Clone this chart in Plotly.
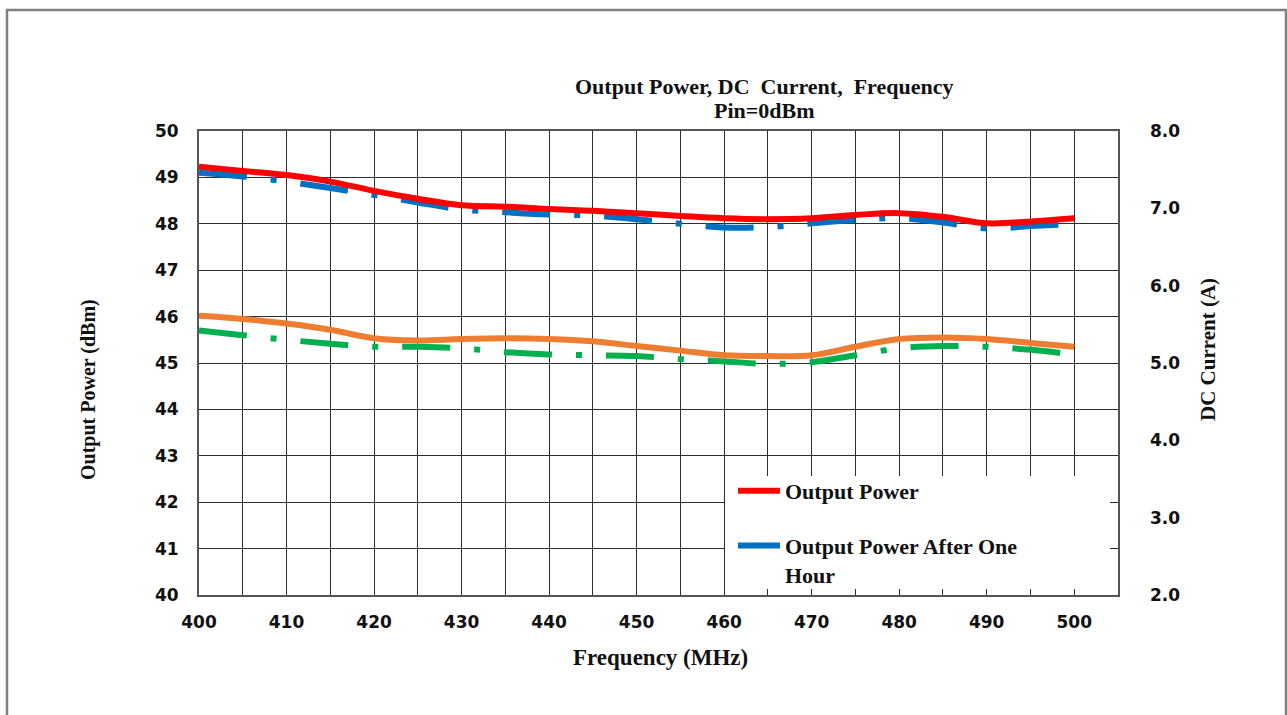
import plotly.graph_objects as go

# ---- data ----
freq = [400, 405, 410, 415, 420, 425, 430, 435, 440, 445, 450,
        455, 460, 465, 470, 475, 480, 485, 490, 495, 500]
output_power = [49.23, 49.14, 49.05, 48.91, 48.71, 48.54, 48.40, 48.37, 48.32, 48.28, 48.23,
                48.17, 48.12, 48.10, 48.12, 48.19, 48.23, 48.15, 48.01, 48.05, 48.12]
output_power_1h = [49.10, 49.02, 48.91, 48.77, 48.62, 48.46, 48.31, 48.25, 48.20, 48.18, 48.10,
                   48.00, 47.92, 47.93, 48.01, 48.08, 48.12, 48.03, 47.90, 47.95, 48.00]
dc_current = [5.61, 5.57, 5.51, 5.43, 5.32, 5.29, 5.31, 5.32, 5.31, 5.28, 5.22,
              5.16, 5.10, 5.09, 5.10, 5.21, 5.31, 5.33, 5.31, 5.26, 5.21]
dc_current_1h = [5.42, 5.36, 5.30, 5.25, 5.21, 5.21, 5.19, 5.14, 5.11, 5.10, 5.09,
                 5.05, 5.02, 4.99, 5.01, 5.10, 5.19, 5.22, 5.21, 5.17, 5.11]

x_ticks = [400, 410, 420, 430, 440, 450, 460, 470, 480, 490, 500]
y_ticks = [40, 41, 42, 43, 44, 45, 46, 47, 48, 49, 50]
y2_ticks = [2.0, 3.0, 4.0, 5.0, 6.0, 7.0, 8.0]

title_line1 = "Output Power, DC  Current,  Frequency"
title_line2 = "Pin=0dBm"

SERIF = "Liberation Serif, Times New Roman, serif"
SANS = "DejaVu Sans, Verdana, sans-serif"
DASH = "48px,24px,6px,24px"

fig = go.Figure()

fig.add_trace(go.Scatter(
    x=freq, y=output_power_1h, mode="lines", name="Output Power After One<br>Hour",
    line=dict(color="#0070C0", width=6, shape="spline", smoothing=1, dash=DASH),
    legendrank=2, legendgroup="b"))
fig.add_trace(go.Scatter(
    x=freq, y=output_power, mode="lines", name="Output Power",
    line=dict(color="#FF0000", width=6, shape="spline", smoothing=1),
    legendrank=1, legendgroup="a"))
fig.add_trace(go.Scatter(
    x=freq, y=dc_current_1h, mode="lines", name="DC Current After One Hour", yaxis="y2",
    line=dict(color="#00B050", width=6, shape="spline", smoothing=1, dash=DASH),
    showlegend=False))
fig.add_trace(go.Scatter(
    x=freq, y=dc_current, mode="lines", name="DC Current", yaxis="y2",
    line=dict(color="#ED7D31", width=6, shape="spline", smoothing=1),
    showlegend=False))

L, R, T, B = 199, 1287 - 1118, 131, 715 - 595
W, H = 1287 - L - R, 715 - T - B


def px(xp):
    return (xp - L) / W


def py(yp):
    return (715 - B - yp) / H


grid_col = "#2e2e2e"
title_font = dict(family=SERIF, size=22, color="#111111", weight="bold")

fig.update_layout(
    width=1287, height=715,
    margin=dict(l=L, r=R, t=T, b=B, pad=0),
    paper_bgcolor="white", plot_bgcolor="white",
    showlegend=True,
    legend=dict(x=px(733), y=py(470), xanchor="left", yanchor="top",
                bgcolor="rgba(0,0,0,0)", borderwidth=0,
                font=dict(family=SERIF, size=22, color="#111111", weight="bold"),
                valign="top", tracegroupgap=23, itemwidth=42),
    xaxis=dict(range=[400, 505], tickvals=x_ticks, ticktext=[str(v) for v in x_ticks],
               showgrid=True, gridcolor=grid_col, gridwidth=1.4,
               minor=dict(dtick=5, tick0=400, showgrid=True, gridcolor=grid_col, gridwidth=1.4),
               showline=True, linecolor="#555555", linewidth=2, mirror=True,
               ticks="", ticklabelstandoff=11, zeroline=False,
               tickfont=dict(family=SANS, size=17, color="#111111", weight="bold")),
    yaxis=dict(range=[40, 50], tickvals=y_ticks, ticktext=[str(v) for v in y_ticks],
               showgrid=True, gridcolor=grid_col, gridwidth=1.4,
               showline=True, linecolor="#555555", linewidth=2, mirror=True,
               ticks="", ticklabelstandoff=15, zeroline=False,
               tickfont=dict(family=SANS, size=17, color="#111111", weight="bold")),
    yaxis2=dict(range=[2, 8], tickvals=y2_ticks, ticktext=[f"{v:.1f}" for v in y2_ticks],
                overlaying="y", side="right", showgrid=False, showline=False,
                ticks="", ticklabelstandoff=31, zeroline=False,
                tickfont=dict(family=SANS, size=17, color="#111111", weight="bold")),
    annotations=[
        dict(text=title_line1, x=px(764), y=py(87), xref="paper", yref="paper",
             xanchor="center", yanchor="middle", showarrow=False, font=title_font),
        dict(text=title_line2, x=px(764), y=py(111), xref="paper", yref="paper",
             xanchor="center", yanchor="middle", showarrow=False, font=title_font),
        dict(text="Output Power (dBm)", x=px(88), y=py(390), xref="paper", yref="paper",
             xanchor="center", yanchor="middle", showarrow=False, textangle=-90,
             font=dict(family=SERIF, size=20, color="#111111", weight="bold")),
        dict(text="Frequency (MHz)", x=px(660), y=py(657), xref="paper", yref="paper",
             xanchor="center", yanchor="middle", showarrow=False,
             font=dict(family=SERIF, size=23, color="#111111", weight="bold")),
        dict(text="DC Current (A)", x=px(1208), y=py(350), xref="paper", yref="paper",
             xanchor="center", yanchor="middle", showarrow=False, textangle=-90,
             font=dict(family=SERIF, size=21, color="#111111", weight="bold")),
    ],
    shapes=[
        # white legend panel covering the grid
        dict(type="rect", xref="paper", yref="paper", layer="above",
             x0=px(725), x1=px(1110), y0=py(589), y1=py(476),
             fillcolor="white", line=dict(width=0)),
        # outer chart border
        dict(type="rect", xref="paper", yref="paper", layer="above",
             x0=px(7), x1=px(1286), y0=py(725), y1=py(10),
             fillcolor="rgba(0,0,0,0)", line=dict(color="#808080", width=2.5)),
    ],
)

fig.write_html("out.html")
